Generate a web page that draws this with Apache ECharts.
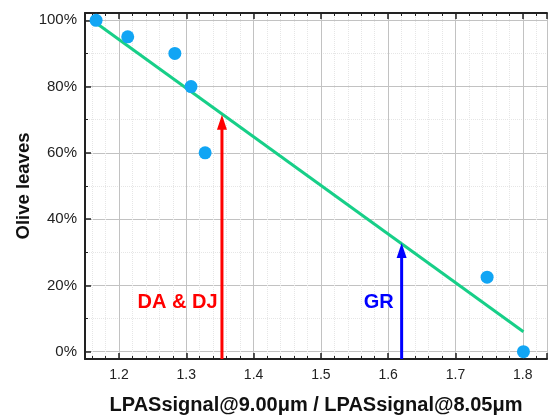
<!DOCTYPE html>
<html>
<head>
<meta charset="utf-8">
<script src="https://cdn.jsdelivr.net/npm/echarts@6/dist/echarts.min.js"></script>
<style>
  html, body { margin: 0; padding: 0; background: #fff; }
  #chart { width: 549px; height: 416px; }
</style>
</head>
<body>
<div id="chart"></div>
<script>
// measured points (ratio, % olive leaves)
var ratioX = [1.166, 1.213, 1.283, 1.307, 1.328, 1.747, 1.801];
var leavesY = [100, 95, 90, 80, 60, 22.5, 0];
// linear fit end points
var fitX = [1.166, 1.801];
var fitY = [99.2, 6.0];
// arrows: x position and tip (tip sits on the fit line)
var arrowX = [1.353, 1.62];
var arrowTip = [71.5, 32.8];
var arrowColor = ["#ff0000", "#0000ff"];
// text labels
var labelText = ["DA & DJ", "GR"];
var labelX = [1.287, 1.586];
var labelY = [14.8, 14.8];

var xMin = 1.1495, xMax = 1.836;
var yMin = -2.2, yMax = 102.2;

var font = "Liberation Sans, Arial, sans-serif";

function pairs(xs, ys) {
    var out = [];
    for (var i = 0; i < xs.length; i++) {
        out.push([xs[i], ys[i]]);
    }
    return out;
}

var arrowData = arrowX.map(function (x, i) {
    return [x, arrowTip[i], i];
});

var labelData = labelText.map(function (t, i) {
    return {
        value: [labelX[i], labelY[i]],
        label: { show: true, formatter: t, color: arrowColor[i], opacity: 1 }
    };
});

function renderArrow(params, api) {
    var base = api.coord([api.value(0), yMin]);
    var tip = api.coord([api.value(0), api.value(1)]);
    var color = arrowColor[api.value(2)];
    var headH = 15, headW = 5;
    return {
        type: "group",
        children: [
            {
                type: "line",
                shape: { x1: base[0], y1: base[1], x2: tip[0], y2: tip[1] + headH - 1 },
                style: { stroke: color, lineWidth: 3 }
            },
            {
                type: "polygon",
                shape: { points: [[tip[0], tip[1]], [tip[0] - headW, tip[1] + headH], [tip[0] + headW, tip[1] + headH]] },
                style: { fill: color }
            }
        ]
    };
}

var axisLine = { show: true, onZero: false, lineStyle: { color: "#222", width: 2 } };
var axisTick = { show: true, inside: true, length: 6, lineStyle: { color: "#222", width: 1.5 } };

var option = {
    animation: false,
    grid: { left: 85, right: 2, top: 13, bottom: 57, outerBoundsMode: "none", containLabel: false },
    xAxis: [
        {
            type: "value",
            min: xMin,
            max: xMax,
            position: "bottom",
            axisLine: axisLine,
            axisTick: axisTick,
            minorTick: { show: true, splitNumber: 5, length: 3, lineStyle: { color: "#222", width: 1 } },
            axisLabel: {
                showMinLabel: false, showMaxLabel: false,
                fontFamily: font, fontSize: 14, color: "#222", margin: 9,
                formatter: function (v) { return v.toFixed(1); }
            },
            splitLine: { show: true, lineStyle: { color: "#c2c2c2", width: 1 } },
            minorSplitLine: { show: true, lineStyle: { color: "#e6e6e6", type: "dotted", width: 1 } },
            name: "LPASsignal@9.00\u03bcm / LPASsignal@8.05\u03bcm",
            nameLocation: "middle",
            nameGap: 36,
            nameMoveOverlap: false,
            nameTextStyle: { fontFamily: font, fontSize: 20, fontWeight: "bold", color: "#111" }
        },
        {
            type: "value",
            min: xMin,
            max: xMax,
            position: "top",
            axisLine: axisLine,
            axisTick: axisTick,
            minorTick: { show: true, splitNumber: 5, length: 3, lineStyle: { color: "#222", width: 1 } },
            axisLabel: { show: false },
            splitLine: { show: false }
        }
    ],
    yAxis: {
        type: "value",
        min: yMin,
        max: yMax,
        axisLine: axisLine,
        axisTick: axisTick,
        minorTick: { show: true, splitNumber: 2, length: 3, lineStyle: { color: "#222", width: 1 } },
        axisLabel: {
            showMinLabel: false, showMaxLabel: false,
            fontFamily: font, fontSize: 15, color: "#222", margin: 8,
            formatter: "{value}%"
        },
        splitLine: { show: true, lineStyle: { color: "#c2c2c2", width: 1 } },
        minorSplitLine: { show: true, lineStyle: { color: "#e6e6e6", type: "dotted", width: 1 } },
        name: "Olive leaves",
        nameLocation: "middle",
        nameGap: 52,
        nameMoveOverlap: false,
        nameTextStyle: { fontFamily: font, fontSize: 18.5, fontWeight: "bold", color: "#111" }
    },
    series: [
        {
            type: "line",
            data: pairs(fitX, fitY),
            symbol: "none",
            lineStyle: { color: "#17cf88", width: 3 },
            z: 3
        },
        {
            type: "custom",
            data: arrowData,
            encode: { x: 0, y: 1 },
            renderItem: renderArrow,
            silent: true,
            z: 4
        },
        {
            type: "scatter",
            data: pairs(ratioX, leavesY),
            symbolSize: 13,
            itemStyle: { color: "#11a5f4", opacity: 1 },
            z: 5
        },
        {
            type: "scatter",
            data: labelData,
            symbolSize: 0,
            itemStyle: { opacity: 1 },
            label: {
                position: "inside",
                fontFamily: font, fontSize: 20, fontWeight: "bold"
            },
            z: 6
        }
    ]
};

echarts.init(document.getElementById("chart")).setOption(option);
</script>
</body>
</html>
